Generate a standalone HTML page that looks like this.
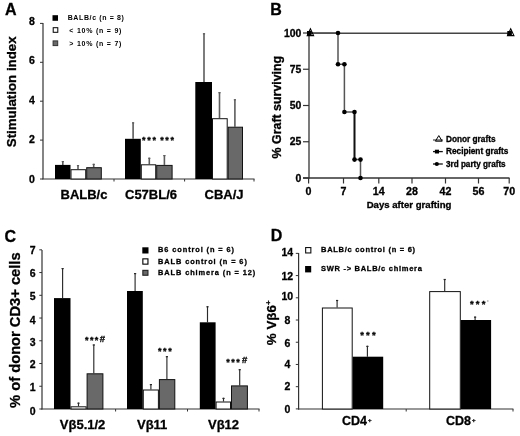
<!DOCTYPE html>
<html><head><meta charset="utf-8"><style>
html,body{margin:0;padding:0;background:#fff;}
svg{display:block;filter:blur(0.35px);}
text{font-family:"Liberation Sans", sans-serif;fill:#000;stroke:#000;stroke-width:0.3px;}
</style></head><body>
<svg width="520" height="436" viewBox="0 0 520 436">
<rect width="520" height="436" fill="#fff"/>
<text x="5" y="14.7" font-size="16" font-weight="bold" text-anchor="start" >A</text>
<line x1="43" y1="23" x2="43" y2="179.2" stroke="#333" stroke-width="1.2"/>
<line x1="40" y1="179.0" x2="43" y2="179.0" stroke="#333" stroke-width="1"/>
<text x="34.8" y="182.7" font-size="10.5" font-weight="bold" text-anchor="end" >0</text>
<line x1="40" y1="140.1" x2="43" y2="140.1" stroke="#333" stroke-width="1"/>
<text x="34.8" y="143.22" font-size="10.5" font-weight="bold" text-anchor="end" >2</text>
<line x1="40" y1="101.2" x2="43" y2="101.2" stroke="#333" stroke-width="1"/>
<text x="34.8" y="103.74000000000001" font-size="10.5" font-weight="bold" text-anchor="end" >4</text>
<line x1="40" y1="62.30000000000001" x2="43" y2="62.30000000000001" stroke="#333" stroke-width="1"/>
<text x="34.8" y="64.26" font-size="10.5" font-weight="bold" text-anchor="end" >6</text>
<line x1="40" y1="23.400000000000006" x2="43" y2="23.400000000000006" stroke="#333" stroke-width="1"/>
<text x="34.8" y="24.780000000000012" font-size="10.5" font-weight="bold" text-anchor="end" >8</text>
<line x1="42.5" y1="179" x2="254.5" y2="179" stroke="#333" stroke-width="1.2"/>
<line x1="114" y1="179" x2="114" y2="181.5" stroke="#333" stroke-width="1"/>
<line x1="184.6" y1="179" x2="184.6" y2="181.5" stroke="#333" stroke-width="1"/>
<line x1="254" y1="179" x2="254" y2="181.5" stroke="#333" stroke-width="1"/>
<line x1="62.8" y1="161" x2="62.8" y2="164.9" stroke="#5c5c5c" stroke-width="1.6"/>
<line x1="61.699999999999996" y1="161.6" x2="63.9" y2="161.6" stroke="#5c5c5c" stroke-width="1.2"/>
<rect x="55.00" y="164.90" width="15.50" height="14.10" fill="#000"/>
<line x1="78.0" y1="165" x2="78.0" y2="169.2" stroke="#5c5c5c" stroke-width="1.6"/>
<line x1="76.9" y1="165.6" x2="79.1" y2="165.6" stroke="#5c5c5c" stroke-width="1.2"/>
<rect x="71.00" y="169.70" width="14.70" height="9.30" fill="#fff" stroke="#111" stroke-width="1"/>
<line x1="93.7" y1="163.8" x2="93.7" y2="167.2" stroke="#5c5c5c" stroke-width="1.6"/>
<line x1="92.60000000000001" y1="164.4" x2="94.8" y2="164.4" stroke="#5c5c5c" stroke-width="1.2"/>
<rect x="86.70" y="167.70" width="14.60" height="11.30" fill="#696969" stroke="#111" stroke-width="1"/>
<line x1="133.1" y1="122.3" x2="133.1" y2="138.8" stroke="#5c5c5c" stroke-width="1.6"/>
<line x1="132.0" y1="122.89999999999999" x2="134.2" y2="122.89999999999999" stroke="#5c5c5c" stroke-width="1.2"/>
<rect x="125.00" y="138.80" width="15.80" height="40.20" fill="#000"/>
<line x1="149.3" y1="157.7" x2="149.3" y2="164.3" stroke="#5c5c5c" stroke-width="1.6"/>
<line x1="148.20000000000002" y1="158.29999999999998" x2="150.4" y2="158.29999999999998" stroke="#5c5c5c" stroke-width="1.2"/>
<rect x="141.30" y="164.80" width="14.40" height="14.20" fill="#fff" stroke="#111" stroke-width="1"/>
<line x1="164.4" y1="155" x2="164.4" y2="164.9" stroke="#5c5c5c" stroke-width="1.6"/>
<line x1="163.3" y1="155.6" x2="165.5" y2="155.6" stroke="#5c5c5c" stroke-width="1.2"/>
<rect x="156.70" y="165.40" width="15.40" height="13.60" fill="#696969" stroke="#111" stroke-width="1"/>
<line x1="204.0" y1="33.2" x2="204.0" y2="82" stroke="#5c5c5c" stroke-width="1.6"/>
<line x1="202.9" y1="33.800000000000004" x2="205.1" y2="33.800000000000004" stroke="#5c5c5c" stroke-width="1.2"/>
<rect x="195.30" y="82.00" width="16.70" height="97.00" fill="#000"/>
<line x1="219.5" y1="92.1" x2="219.5" y2="118.2" stroke="#5c5c5c" stroke-width="1.6"/>
<line x1="218.4" y1="92.69999999999999" x2="220.6" y2="92.69999999999999" stroke="#5c5c5c" stroke-width="1.2"/>
<rect x="212.50" y="118.70" width="14.70" height="60.30" fill="#fff" stroke="#111" stroke-width="1"/>
<line x1="234.9" y1="99.2" x2="234.9" y2="126.7" stroke="#5c5c5c" stroke-width="1.6"/>
<line x1="233.8" y1="99.8" x2="236.0" y2="99.8" stroke="#5c5c5c" stroke-width="1.2"/>
<rect x="228.20" y="127.20" width="14.30" height="51.80" fill="#696969" stroke="#111" stroke-width="1"/>
<text x="142" y="143.1" font-size="9" font-weight="bold">*</text>
<text x="147.3" y="143.1" font-size="9" font-weight="bold">*</text>
<text x="152.5" y="143.1" font-size="9" font-weight="bold">*</text>
<text x="160.3" y="143.1" font-size="9" font-weight="bold">*</text>
<text x="165.2" y="143.1" font-size="9" font-weight="bold">*</text>
<text x="170.4" y="143.1" font-size="9" font-weight="bold">*</text>
<text x="60.5" y="199.2" font-size="13" font-weight="bold" text-anchor="start" >BALB/c</text>
<text x="125" y="199.2" font-size="13" font-weight="bold" text-anchor="start" >C57BL/6</text>
<text x="204.6" y="199.2" font-size="13" font-weight="bold" text-anchor="start" >CBA/J</text>
<text transform="translate(16.4,147.2) rotate(-90)" font-size="13.3" font-weight="bold" >Stimulation index</text>
<rect x="52.50" y="15.20" width="5.50" height="5.60" fill="#000"/>
<rect x="53.20" y="27.70" width="4.60" height="4.60" fill="#fff" stroke="#000" stroke-width="1"/>
<rect x="53.10" y="40.90" width="4.60" height="4.70" fill="#696969" stroke="#333" stroke-width="1"/>
<text x="67.7" y="20.1" font-size="7" font-weight="bold" text-anchor="start" letter-spacing="0.62" style="stroke-width:0">BALB/c (n = 8)</text>
<text x="69.3" y="32.5" font-size="7" font-weight="bold" text-anchor="start" letter-spacing="0.78" style="stroke-width:0">&lt; 10% (n = 9)</text>
<text x="69.3" y="45.5" font-size="7" font-weight="bold" text-anchor="start" letter-spacing="0.78" style="stroke-width:0">&gt; 10% (n = 7)</text>
<text x="270.3" y="14.6" font-size="16" font-weight="bold" text-anchor="start" >B</text>
<line x1="309" y1="32.5" x2="309" y2="178.5" stroke="#333" stroke-width="1.3"/>
<line x1="303" y1="33.0" x2="309" y2="33.0" stroke="#333" stroke-width="1.2"/>
<text x="301.3" y="36.7" font-size="10.4" font-weight="bold" text-anchor="end" >100</text>
<line x1="303" y1="69.25" x2="309" y2="69.25" stroke="#333" stroke-width="1.2"/>
<text x="301.3" y="72.95" font-size="10.4" font-weight="bold" text-anchor="end" >75</text>
<line x1="303" y1="105.5" x2="309" y2="105.5" stroke="#333" stroke-width="1.2"/>
<text x="301.3" y="109.2" font-size="10.4" font-weight="bold" text-anchor="end" >50</text>
<line x1="303" y1="141.75" x2="309" y2="141.75" stroke="#333" stroke-width="1.2"/>
<text x="301.3" y="145.45" font-size="10.4" font-weight="bold" text-anchor="end" >25</text>
<line x1="303" y1="178.0" x2="309" y2="178.0" stroke="#333" stroke-width="1.2"/>
<text x="301.3" y="181.7" font-size="10.4" font-weight="bold" text-anchor="end" >0</text>
<line x1="303" y1="178" x2="509.5" y2="178" stroke="#333" stroke-width="1.3"/>
<line x1="308.6" y1="178" x2="308.6" y2="183.5" stroke="#333" stroke-width="1.2"/>
<text x="308.6" y="194.6" font-size="10.7" font-weight="bold" text-anchor="middle" >0</text>
<line x1="343.5" y1="178" x2="343.5" y2="183.5" stroke="#333" stroke-width="1.2"/>
<text x="343.5" y="194.6" font-size="10.7" font-weight="bold" text-anchor="middle" >7</text>
<line x1="378.8" y1="178" x2="378.8" y2="183.5" stroke="#333" stroke-width="1.2"/>
<text x="378.8" y="194.6" font-size="10.7" font-weight="bold" text-anchor="middle" >14</text>
<line x1="412" y1="178" x2="412" y2="183.5" stroke="#333" stroke-width="1.2"/>
<text x="412" y="194.6" font-size="10.7" font-weight="bold" text-anchor="middle" >28</text>
<line x1="445.5" y1="178" x2="445.5" y2="183.5" stroke="#333" stroke-width="1.2"/>
<text x="445.5" y="194.6" font-size="10.7" font-weight="bold" text-anchor="middle" >42</text>
<line x1="478.5" y1="178" x2="478.5" y2="183.5" stroke="#333" stroke-width="1.2"/>
<text x="478.5" y="194.6" font-size="10.7" font-weight="bold" text-anchor="middle" >56</text>
<line x1="509.2" y1="178" x2="509.2" y2="183.5" stroke="#333" stroke-width="1.2"/>
<text x="509.2" y="194.6" font-size="10.7" font-weight="bold" text-anchor="middle" >70</text>
<text x="366.7" y="207.7" font-size="9.6" font-weight="bold" text-anchor="start" >Days after grafting</text>
<text transform="translate(281,158.4) rotate(-90)" font-size="12.4" font-weight="bold" >% Graft surviving</text>
<line x1="309" y1="33.2" x2="508" y2="33.2" stroke="#444" stroke-width="1.4"/>
<polyline points="309,33 338,33 338,64.3 344.4,64.3 344.4,112 354.5,112 354.5,159.6 360.5,159.6 360.5,178" fill="none" stroke="#555" stroke-width="1.5"/>
<line x1="354.5" y1="112" x2="354.5" y2="159.6" stroke="#111" stroke-width="1.8"/>
<circle cx="338" cy="33" r="2.3" fill="#000"/>
<circle cx="338" cy="64.3" r="2.3" fill="#000"/>
<circle cx="344.4" cy="64.3" r="2.3" fill="#000"/>
<circle cx="344.4" cy="112" r="2.3" fill="#000"/>
<circle cx="354.5" cy="112" r="2.3" fill="#000"/>
<circle cx="354.5" cy="159.6" r="2.3" fill="#000"/>
<circle cx="360.5" cy="159.6" r="2.3" fill="#000"/>
<circle cx="360.5" cy="178" r="2.3" fill="#000"/>
<rect x="307.0" y="31" width="4.6" height="5" fill="#000"/>
<path d="M310.4 28.8 L313.6 35.6 L307.2 35.6 Z" fill="none" stroke="#000" stroke-width="1.1"/>
<rect x="507.3" y="31" width="4.6" height="5" fill="#000"/>
<path d="M510.7 28.8 L513.9 35.6 L507.5 35.6 Z" fill="none" stroke="#000" stroke-width="1.1"/>
<line x1="433" y1="140.0" x2="442.8" y2="140.0" stroke="#333" stroke-width="1.1"/>
<path d="M438.8 135.6 L442.2 141.2 L435.4 141.2 Z" fill="none" stroke="#000" stroke-width="1"/>
<text x="446" y="141.95" font-size="8.25" font-weight="bold" text-anchor="start" >Donor grafts</text>
<line x1="433" y1="151.6" x2="442.8" y2="151.6" stroke="#111" stroke-width="1.3"/>
<rect x="434.9" y="149.7" width="4.1" height="3.8" fill="#000"/>
<text x="446" y="154.1" font-size="8.25" font-weight="bold" text-anchor="start" >Recipient grafts</text>
<line x1="433" y1="164.0" x2="442.8" y2="164.0" stroke="#111" stroke-width="1.3"/>
<circle cx="436.8" cy="164.0" r="2.1" fill="#000"/>
<text x="446" y="166.9" font-size="8.15" font-weight="bold" text-anchor="start" >3rd party grafts</text>
<text x="4.5" y="241.6" font-size="16" font-weight="bold" text-anchor="start" >C</text>
<line x1="42" y1="250" x2="42" y2="409.5" stroke="#333" stroke-width="1.2"/>
<line x1="39.3" y1="409.0" x2="42" y2="409.0" stroke="#333" stroke-width="1"/>
<text x="35.5" y="414.9" font-size="10.5" font-weight="bold" text-anchor="end" >0</text>
<line x1="39.3" y1="386.26" x2="42" y2="386.26" stroke="#333" stroke-width="1"/>
<text x="35.5" y="390.7" font-size="10.5" font-weight="bold" text-anchor="end" >1</text>
<line x1="39.3" y1="363.52" x2="42" y2="363.52" stroke="#333" stroke-width="1"/>
<text x="35.5" y="367.9" font-size="10.5" font-weight="bold" text-anchor="end" >2</text>
<line x1="39.3" y1="340.78" x2="42" y2="340.78" stroke="#333" stroke-width="1"/>
<text x="35.5" y="345.9" font-size="10.5" font-weight="bold" text-anchor="end" >3</text>
<line x1="39.3" y1="318.04" x2="42" y2="318.04" stroke="#333" stroke-width="1"/>
<text x="35.5" y="323.59999999999997" font-size="10.5" font-weight="bold" text-anchor="end" >4</text>
<line x1="39.3" y1="295.3" x2="42" y2="295.3" stroke="#333" stroke-width="1"/>
<text x="35.5" y="299.5" font-size="10.5" font-weight="bold" text-anchor="end" >5</text>
<line x1="39.3" y1="272.56" x2="42" y2="272.56" stroke="#333" stroke-width="1"/>
<text x="35.5" y="277.2" font-size="10.5" font-weight="bold" text-anchor="end" >6</text>
<line x1="39.3" y1="249.82000000000002" x2="42" y2="249.82000000000002" stroke="#333" stroke-width="1"/>
<text x="35.5" y="254.45" font-size="10.5" font-weight="bold" text-anchor="end" >7</text>
<line x1="41.5" y1="409" x2="259.5" y2="409" stroke="#333" stroke-width="1.2"/>
<line x1="115.6" y1="409" x2="115.6" y2="411.5" stroke="#333" stroke-width="1"/>
<line x1="187.5" y1="409" x2="187.5" y2="411.5" stroke="#333" stroke-width="1"/>
<line x1="259" y1="409" x2="259" y2="411.5" stroke="#333" stroke-width="1"/>
<line x1="62.6" y1="268" x2="62.6" y2="298.1" stroke="#2a2a2a" stroke-width="1.15"/>
<line x1="61.5" y1="268.6" x2="63.7" y2="268.6" stroke="#2a2a2a" stroke-width="1.2"/>
<rect x="54.00" y="298.10" width="16.50" height="110.90" fill="#000"/>
<line x1="78.5" y1="402.6" x2="78.5" y2="406.3" stroke="#2a2a2a" stroke-width="1.15"/>
<line x1="77.4" y1="403.20000000000005" x2="79.6" y2="403.20000000000005" stroke="#2a2a2a" stroke-width="1.2"/>
<rect x="71.00" y="406.80" width="15.10" height="2.20" fill="#fff" stroke="#111" stroke-width="1"/>
<line x1="93.8" y1="344.4" x2="93.8" y2="373.3" stroke="#2a2a2a" stroke-width="1.15"/>
<line x1="92.7" y1="345.0" x2="94.89999999999999" y2="345.0" stroke="#2a2a2a" stroke-width="1.2"/>
<rect x="87.10" y="373.80" width="15.80" height="35.20" fill="#696969" stroke="#111" stroke-width="1"/>
<line x1="135.1" y1="273" x2="135.1" y2="291" stroke="#2a2a2a" stroke-width="1.15"/>
<line x1="134.0" y1="273.6" x2="136.2" y2="273.6" stroke="#2a2a2a" stroke-width="1.2"/>
<rect x="127.00" y="291.00" width="15.80" height="118.00" fill="#000"/>
<line x1="150.9" y1="384" x2="150.9" y2="389.5" stroke="#2a2a2a" stroke-width="1.15"/>
<line x1="149.8" y1="384.6" x2="152.0" y2="384.6" stroke="#2a2a2a" stroke-width="1.2"/>
<rect x="143.30" y="390.00" width="15.10" height="19.00" fill="#fff" stroke="#111" stroke-width="1"/>
<line x1="166.9" y1="356.1" x2="166.9" y2="379.1" stroke="#2a2a2a" stroke-width="1.15"/>
<line x1="165.8" y1="356.70000000000005" x2="168.0" y2="356.70000000000005" stroke="#2a2a2a" stroke-width="1.2"/>
<rect x="159.40" y="379.60" width="15.40" height="29.40" fill="#696969" stroke="#111" stroke-width="1"/>
<line x1="207.5" y1="306.2" x2="207.5" y2="322.3" stroke="#2a2a2a" stroke-width="1.15"/>
<line x1="206.4" y1="306.8" x2="208.6" y2="306.8" stroke="#2a2a2a" stroke-width="1.2"/>
<rect x="199.80" y="322.30" width="15.80" height="86.70" fill="#000"/>
<line x1="223.5" y1="397.8" x2="223.5" y2="401.5" stroke="#2a2a2a" stroke-width="1.15"/>
<line x1="222.4" y1="398.40000000000003" x2="224.6" y2="398.40000000000003" stroke="#2a2a2a" stroke-width="1.2"/>
<rect x="216.10" y="402.00" width="14.40" height="7.00" fill="#fff" stroke="#111" stroke-width="1"/>
<line x1="239.7" y1="369.1" x2="239.7" y2="385.4" stroke="#2a2a2a" stroke-width="1.15"/>
<line x1="238.6" y1="369.70000000000005" x2="240.79999999999998" y2="369.70000000000005" stroke="#2a2a2a" stroke-width="1.2"/>
<rect x="231.50" y="385.90" width="15.90" height="23.10" fill="#696969" stroke="#111" stroke-width="1"/>
<text x="85.0" y="342.8" font-size="9" font-weight="bold">*</text>
<text x="89.9" y="342.8" font-size="9" font-weight="bold">*</text>
<text x="94.8" y="342.8" font-size="9" font-weight="bold">*</text>
<text x="99.8" y="341.8" font-size="9.5" font-weight="bold">#</text>
<text x="158.1" y="354.2" font-size="9" font-weight="bold">*</text>
<text x="163.0" y="354.2" font-size="9" font-weight="bold">*</text>
<text x="168.3" y="354.2" font-size="9" font-weight="bold">*</text>
<text x="226.3" y="365.4" font-size="9" font-weight="bold">*</text>
<text x="231.3" y="365.4" font-size="9" font-weight="bold">*</text>
<text x="236.3" y="365.4" font-size="9" font-weight="bold">*</text>
<text x="242.0" y="363.0" font-size="9.5" font-weight="bold">#</text>
<text x="59.8" y="429.1" font-size="13" font-weight="bold" text-anchor="start" >Vβ5.1/2</text>
<text x="137" y="429.1" font-size="13" font-weight="bold" text-anchor="start" >Vβ11</text>
<text x="208" y="429.1" font-size="13" font-weight="bold" text-anchor="start" >Vβ12</text>
<text transform="translate(20.2,407.9) rotate(-90)" font-size="14.7" font-weight="bold" >% of donor CD3+ cells</text>
<rect x="142.30" y="247.30" width="6.20" height="6.20" fill="#000"/>
<rect x="142.85" y="258.85" width="5.10" height="5.30" fill="#fff" stroke="#000" stroke-width="1.1"/>
<rect x="142.85" y="270.35" width="5.10" height="4.90" fill="#696969" stroke="#222" stroke-width="1.1"/>
<text x="158.1" y="252.4" font-size="7.4" font-weight="bold" text-anchor="start" letter-spacing="0.9" >B6 control (n = 6)</text>
<text x="158.1" y="263.7" font-size="7.4" font-weight="bold" text-anchor="start" letter-spacing="0.9" >BALB control (n = 6)</text>
<text x="158.1" y="274.7" font-size="7.4" font-weight="bold" text-anchor="start" letter-spacing="0.9" >BALB chimera (n = 12)</text>
<text x="270.7" y="241.1" font-size="16" font-weight="bold" text-anchor="start" >D</text>
<line x1="298.6" y1="253" x2="298.6" y2="409.5" stroke="#333" stroke-width="1.2"/>
<line x1="295.8" y1="408.9" x2="298.6" y2="408.9" stroke="#333" stroke-width="1"/>
<text x="287.3" y="413.2" font-size="10.5" font-weight="bold" text-anchor="middle" >0</text>
<line x1="295.8" y1="386.67999999999995" x2="298.6" y2="386.67999999999995" stroke="#333" stroke-width="1"/>
<text x="287.3" y="390.0" font-size="10.5" font-weight="bold" text-anchor="middle" >2</text>
<line x1="295.8" y1="364.46" x2="298.6" y2="364.46" stroke="#333" stroke-width="1"/>
<text x="287.3" y="368.3" font-size="10.5" font-weight="bold" text-anchor="middle" >4</text>
<line x1="295.8" y1="342.24" x2="298.6" y2="342.24" stroke="#333" stroke-width="1"/>
<text x="287.3" y="346.59999999999997" font-size="10.5" font-weight="bold" text-anchor="middle" >6</text>
<line x1="295.8" y1="320.02" x2="298.6" y2="320.02" stroke="#333" stroke-width="1"/>
<text x="287.3" y="323.59999999999997" font-size="10.5" font-weight="bold" text-anchor="middle" >8</text>
<line x1="295.8" y1="297.79999999999995" x2="298.6" y2="297.79999999999995" stroke="#333" stroke-width="1"/>
<text x="287.3" y="300.0" font-size="10.5" font-weight="bold" text-anchor="middle" >10</text>
<line x1="295.8" y1="275.58" x2="298.6" y2="275.58" stroke="#333" stroke-width="1"/>
<text x="287.3" y="279.59999999999997" font-size="10.5" font-weight="bold" text-anchor="middle" >12</text>
<line x1="295.8" y1="253.35999999999999" x2="298.6" y2="253.35999999999999" stroke="#333" stroke-width="1"/>
<text x="287.3" y="256.1" font-size="10.5" font-weight="bold" text-anchor="middle" >14</text>
<line x1="298" y1="409" x2="513.4" y2="409" stroke="#333" stroke-width="1.2"/>
<line x1="406.2" y1="409" x2="406.2" y2="411.5" stroke="#333" stroke-width="1"/>
<line x1="513" y1="409" x2="513" y2="411.5" stroke="#333" stroke-width="1"/>
<line x1="337.1" y1="299.9" x2="337.1" y2="307.5" stroke="#2a2a2a" stroke-width="1.15"/>
<line x1="336.0" y1="300.5" x2="338.20000000000005" y2="300.5" stroke="#2a2a2a" stroke-width="1.2"/>
<rect x="322.40" y="308.00" width="29.80" height="101.00" fill="#fff" stroke="#111" stroke-width="1"/>
<line x1="367.4" y1="345.8" x2="367.4" y2="356.7" stroke="#2a2a2a" stroke-width="1.15"/>
<line x1="366.29999999999995" y1="346.40000000000003" x2="368.5" y2="346.40000000000003" stroke="#2a2a2a" stroke-width="1.2"/>
<rect x="352.70" y="356.70" width="30.50" height="52.30" fill="#000"/>
<line x1="444.7" y1="278.9" x2="444.7" y2="291.1" stroke="#2a2a2a" stroke-width="1.15"/>
<line x1="443.59999999999997" y1="279.5" x2="445.8" y2="279.5" stroke="#2a2a2a" stroke-width="1.2"/>
<rect x="429.70" y="291.60" width="30.60" height="117.40" fill="#fff" stroke="#111" stroke-width="1"/>
<line x1="475.1" y1="316.6" x2="475.1" y2="320" stroke="#2a2a2a" stroke-width="1.15"/>
<line x1="474.0" y1="317.20000000000005" x2="476.20000000000005" y2="317.20000000000005" stroke="#2a2a2a" stroke-width="1.2"/>
<rect x="460.80" y="320.00" width="30.30" height="89.00" fill="#000"/>
<text x="360.2" y="338.3" font-size="9.5" font-weight="bold">*</text>
<text x="366.1" y="338.3" font-size="9.5" font-weight="bold">*</text>
<text x="372.0" y="338.3" font-size="9.5" font-weight="bold">*</text>
<text x="469.9" y="307.2" font-size="9.5" font-weight="bold">*</text>
<text x="475.8" y="307.2" font-size="9.5" font-weight="bold">*</text>
<text x="481.7" y="307.2" font-size="9.5" font-weight="bold">*</text>
<circle cx="487.8" cy="301" r="0.9" fill="#bbb"/>
<text x="342" y="425.2" font-size="12.5" font-weight="bold" text-anchor="start" >CD4<tspan font-size="6" dx="1" dy="-3.3">+</tspan></text>
<text x="446" y="425.2" font-size="12.5" font-weight="bold" text-anchor="start" >CD8<tspan font-size="6" dx="1" dy="-3.3">+</tspan></text>
<text transform="translate(276.1,345.2) rotate(-90)" font-size="13.4" font-weight="bold" >% Vβ6<tspan font-size="8" dy="-5.5">+</tspan></text>
<rect x="305.65" y="247.55" width="5.20" height="5.40" fill="#fff" stroke="#111" stroke-width="1.1"/>
<rect x="305.10" y="266.00" width="6.10" height="6.40" fill="#000"/>
<text x="321" y="252.2" font-size="7.5" font-weight="bold" text-anchor="start" letter-spacing="0.72" >BALB/c control (n = 6)</text>
<text x="321" y="271.0" font-size="7.5" font-weight="bold" text-anchor="start" letter-spacing="0.72" >SWR -&gt; BALB/c chimera</text>
</svg>
</body></html>
